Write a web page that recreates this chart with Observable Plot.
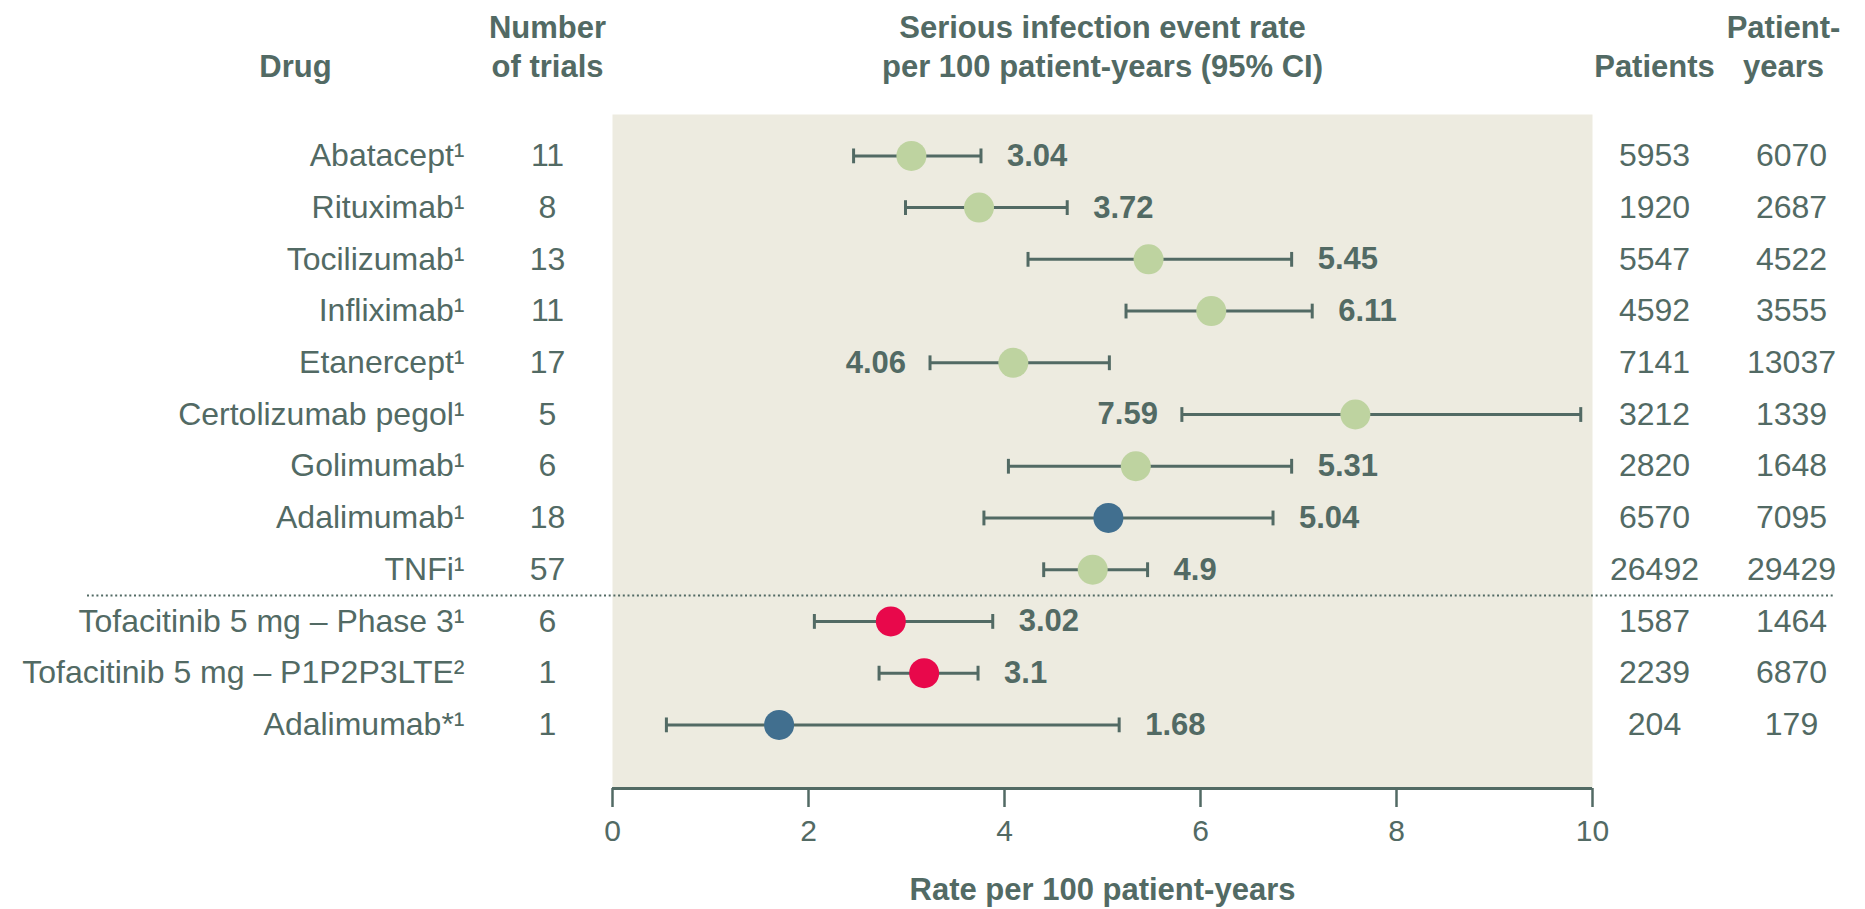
<!DOCTYPE html>
<html>
<head>
<meta charset="utf-8">
<script src="https://cdn.jsdelivr.net/npm/d3@7"></script>
<script src="https://cdn.jsdelivr.net/npm/@observablehq/plot@0.6"></script>
<style>
  html, body { margin: 0; padding: 0; background: #ffffff; overflow: hidden; }
</style>
</head>
<body>
<div id="chart"></div>
<script>
// ---------------- data ----------------
const drugs = ["Abatacept", "Rituximab", "Tocilizumab", "Infliximab", "Etanercept", "Certolizumab pegol", "Golimumab", "Adalimumab", "TNFi", "Tofacitinib 5 mg – Phase 3", "Tofacitinib 5 mg – P1P2P3LTE", "Adalimumab*"];
const refs = ["¹", "¹", "¹", "¹", "¹", "¹", "¹", "¹", "¹", "¹", "²", "¹"];
const trials = [11, 8, 13, 11, 17, 5, 6, 18, 57, 6, 1, 1];
const rateLabels = ["3.04", "3.72", "5.45", "6.11", "4.06", "7.59", "5.31", "5.04", "4.9", "3.02", "3.1", "1.68"];
const pointEst = [3.05, 3.74, 5.47, 6.11, 4.09, 7.58, 5.34, 5.06, 4.90, 2.84, 3.18, 1.70];
const ciLow = [2.46, 2.99, 4.24, 5.24, 3.24, 5.81, 4.04, 3.79, 4.40, 2.06, 2.72, 0.55];
const ciHigh = [3.76, 4.64, 6.93, 7.14, 5.07, 9.88, 6.93, 6.74, 5.46, 3.88, 3.73, 5.17];
const patients = [5953, 1920, 5547, 4592, 7141, 3212, 2820, 6570, 26492, 1587, 2239, 204];
const patientYears = [6070, 2687, 4522, 3555, 13037, 1339, 1648, 7095, 29429, 1464, 6870, 179];
const groups = ["Biologic", "Biologic", "Biologic", "Biologic", "Biologic", "Biologic", "Biologic", "Adalimumab", "Biologic", "Tofacitinib", "Tofacitinib", "Adalimumab"];
const labelSide = ["right", "right", "right", "right", "left", "left", "right", "right", "right", "right", "right", "right"];
const separatorAfter = 8; // dotted line after the TNFi row
const xTicks = [0, 2, 4, 6, 8, 10];

const headerDrug = "Drug";
const headerTrials = "Number\nof trials";
const headerRate = "Serious infection event rate\nper 100 patient-years (95% CI)";
const headerPatients = "Patients";
const headerPY = "Patient-\nyears";
const xLabel = "Rate per 100 patient-years";

// ---------------- styles ----------------
const ink = "#526a64";
const panel = "#edebe0";
const groupDomain = ["Biologic", "Adalimumab", "Tofacitinib"];
const groupColors = ["#bed3a0", "#416f8f", "#e8084b"];
const font = "'Liberation Sans', Arial, Helvetica, sans-serif";

const rows = drugs.map((d, i) => ({
  i, drug: d + refs[i], trials: String(trials[i]), label: rateLabels[i],
  pt: pointEst[i], lo: ciLow[i], hi: ciHigh[i],
  patients: String(patients[i]), py: String(patientYears[i]),
  group: groups[i], side: labelSide[i]
}));

const yDomain = [12.23, -0.8];

const capSymbol = {
  draw(ctx, size) {
    const h = Math.sqrt(size / Math.PI);
    ctx.moveTo(0, -h);
    ctx.lineTo(0, h);
  }
};

const headerCommon = {text: d => d, textAnchor: "middle", lineAnchor: "bottom", lineHeight: 1.23, fontWeight: "bold", fontSize: 31, fill: ink, dy: -38};

const chart = Plot.plot({
  width: 1865,
  height: 909,
  marginLeft: 612,
  marginRight: 273,
  marginTop: 114,
  marginBottom: 121,
  style: {fontFamily: font, fontSize: "30px", color: ink, background: "#ffffff", overflow: "visible"},
  x: {domain: [0, 10]},
  y: {domain: yDomain, axis: null},
  color: {domain: groupDomain, range: groupColors},
  marks: [
    Plot.frame({fill: panel, stroke: null}),
    Plot.ruleY([separatorAfter + 0.5], {stroke: ink, strokeWidth: 2, strokeDasharray: "2,2.7", insetLeft: -525, insetRight: -243}),
    Plot.ruleY([yDomain[0]], {stroke: ink, strokeWidth: 3}),
    Plot.axisX({ticks: xTicks, tickSize: 19, tickPadding: 12, strokeWidth: 2.5, fontSize: 30, label: null, tickFormat: d => String(d), stroke: ink, fill: ink}),
    // CI
    Plot.ruleY(rows, {y: "i", x1: "lo", x2: "hi", stroke: ink, strokeWidth: 3}),
    Plot.dot(rows, {x: "lo", y: "i", r: 7.4, symbol: capSymbol, fill: "none", stroke: ink, strokeWidth: 3}),
    Plot.dot(rows, {x: "hi", y: "i", r: 7.4, symbol: capSymbol, fill: "none", stroke: ink, strokeWidth: 3}),
    Plot.dot(rows, {x: "pt", y: "i", r: 15, fill: "group", stroke: null}),
    // value labels
    Plot.text(rows.filter(d => d.side === "right"), {x: "hi", y: "i", text: "label", dx: 26, textAnchor: "start", fontWeight: "bold", fontSize: 31, fill: ink}),
    Plot.text(rows.filter(d => d.side === "left"), {x: "lo", y: "i", text: "label", dx: -24, textAnchor: "end", fontWeight: "bold", fontSize: 31, fill: ink}),
    // table columns
    Plot.text(rows, {y: "i", text: "drug", frameAnchor: "left", dx: -148, textAnchor: "end", fontSize: 32, fill: ink}),
    Plot.text(rows, {y: "i", text: "trials", frameAnchor: "left", dx: -65, textAnchor: "middle", fontSize: 32, fill: ink}),
    Plot.text(rows, {y: "i", text: "patients", frameAnchor: "right", dx: 62, textAnchor: "middle", fontSize: 32, fill: ink}),
    Plot.text(rows, {y: "i", text: "py", frameAnchor: "right", dx: 199, textAnchor: "middle", fontSize: 32, fill: ink}),
    // headers
    Plot.text([headerDrug], {...headerCommon, frameAnchor: "top-left", dx: -317}),
    Plot.text([headerTrials], {...headerCommon, frameAnchor: "top-left", dx: -65}),
    Plot.text([headerRate], {...headerCommon, frameAnchor: "top"}),
    Plot.text([headerPatients], {...headerCommon, frameAnchor: "top-right", dx: 62}),
    Plot.text([headerPY], {...headerCommon, frameAnchor: "top-right", dx: 191}),
    // x axis title
    Plot.text([xLabel], {text: d => d, frameAnchor: "bottom", dy: 111, fontWeight: "bold", fontSize: 31, fill: ink})
  ]
});

document.getElementById("chart").appendChild(chart);
</script>
</body>
</html>
